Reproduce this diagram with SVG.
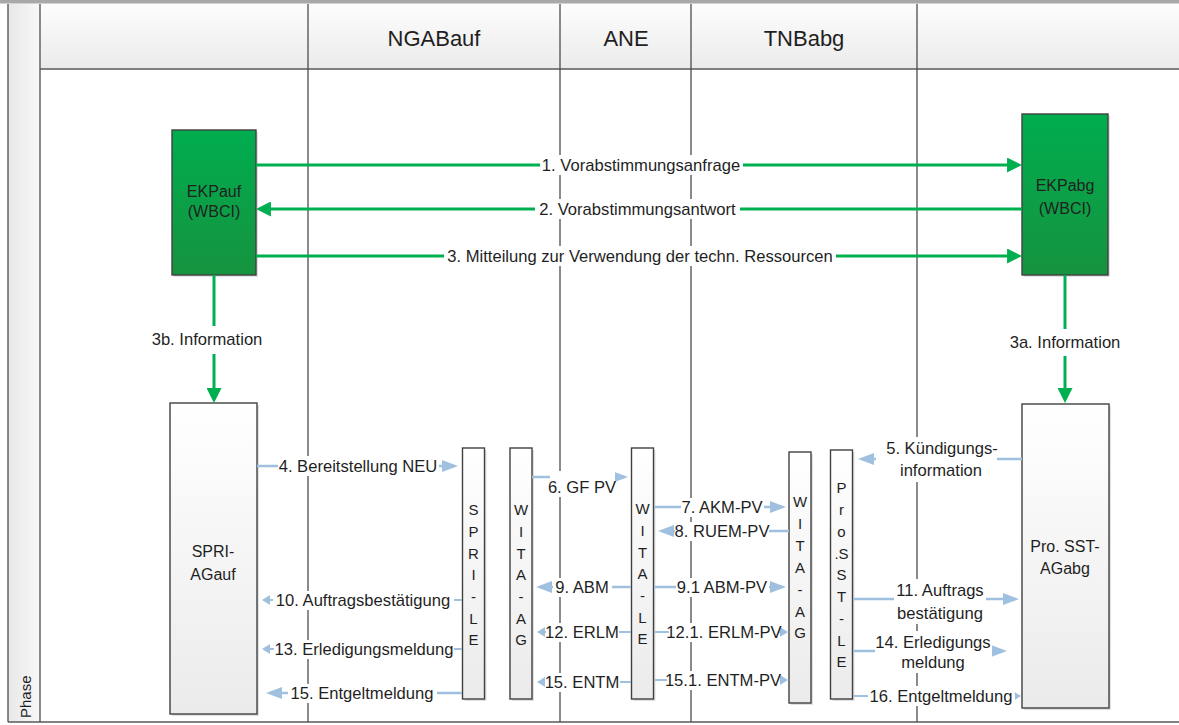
<svg xmlns="http://www.w3.org/2000/svg" width="1179" height="725" viewBox="0 0 1179 725">
  <defs>
    <linearGradient id="gHead" x1="0" y1="0" x2="0" y2="1">
      <stop offset="0" stop-color="#fdfdfd"/>
      <stop offset="1" stop-color="#ebebeb"/>
    </linearGradient>
    <linearGradient id="gPhase" x1="0" y1="0" x2="1" y2="0">
      <stop offset="0" stop-color="#e8e8e8"/>
      <stop offset="1" stop-color="#f8f8f8"/>
    </linearGradient>
    <linearGradient id="gGreen" x1="0" y1="0" x2="0" y2="1">
      <stop offset="0" stop-color="#00ad4f"/>
      <stop offset="1" stop-color="#16933f"/>
    </linearGradient>
    <linearGradient id="gBox" x1="0" y1="0" x2="0" y2="1">
      <stop offset="0" stop-color="#ffffff"/>
      <stop offset="1" stop-color="#ebebeb"/>
    </linearGradient>
    <marker id="mGreen" viewBox="0 0 10 10" refX="7.3" refY="5" markerWidth="15" markerHeight="15" markerUnits="userSpaceOnUse" orient="auto">
      <path d="M0,0 L10,5 L0,10 z" fill="#00b050"/>
    </marker>
    <marker id="mBlue" viewBox="0 0 16 12" refX="12" refY="6" markerWidth="16" markerHeight="12" markerUnits="userSpaceOnUse" orient="auto">
      <path d="M0,0 L16,6 L0,12 z" fill="#9fc0df"/>
    </marker>
    <marker id="mBlueS" viewBox="0 0 8 10" refX="5" refY="5" markerWidth="8" markerHeight="10" markerUnits="userSpaceOnUse" orient="auto">
      <path d="M0,0 L8,5 L0,10 z" fill="#9fc0df"/>
    </marker>
  </defs>
  <style>
    text { font-family: "Liberation Sans", Arial, sans-serif; fill: #1f1f1f; }
    .head { font-size: 22px; text-anchor: middle; }
    .lbl { font-size: 16.6px; text-anchor: middle; }
    .box { font-size: 16px; text-anchor: middle; }
    .bar { font-size: 15px; text-anchor: middle; }
    .frame { stroke: #595959; stroke-width: 1.4; fill: none; }
    .life { stroke: #4d4d4d; stroke-width: 1.3; fill: none; }
    .green { stroke: #00b050; stroke-width: 3; fill: none; marker-end: url(#mGreen); }
    .blue { stroke: #9fc0df; stroke-width: 2.5; fill: none; marker-end: url(#mBlue); }
    .blueS { stroke: #9fc0df; stroke-width: 2; fill: none; marker-end: url(#mBlueS); }
    .bg { fill: #ffffff; }
    .node { stroke: #404040; stroke-width: 1.4; }
    .shadow { fill: #000000; opacity: 0.12; }
  </style>

  <rect width="1179" height="725" fill="#ffffff"/>

  <!-- pool frame, header row and swimlane lines -->
  <g id="frame">
    <rect x="0" y="0" width="1179" height="3.5" fill="#a8a8a8"/>
    <rect x="8" y="4" width="32" height="718" fill="url(#gPhase)"/>
    <rect x="40" y="4" width="1139" height="65" fill="url(#gHead)"/>
    <line class="frame" x1="8" y1="4" x2="8" y2="722"/>
    <line class="frame" x1="40" y1="4" x2="40" y2="722"/>
    <line class="frame" x1="40" y1="69" x2="1179" y2="69"/>
    <line class="frame" x1="8" y1="722" x2="1179" y2="722"/>
    <line class="life" x1="308" y1="4" x2="308" y2="722"/>
    <line class="life" x1="560" y1="4" x2="560" y2="722"/>
    <line class="life" x1="691" y1="4" x2="691" y2="722"/>
    <line class="life" x1="917" y1="4" x2="917" y2="722"/>
    <text class="head" x="434" y="46">NGABauf</text>
    <text class="head" x="626" y="46">ANE</text>
    <text class="head" x="804" y="46">TNBabg</text>
    <text font-size="15" transform="translate(31,718) rotate(-90)">Phase</text>
  </g>

  <!-- green WBCI nodes -->
  <g id="EKPauf">
    <rect class="shadow" x="174" y="132" width="84" height="145"/>
    <rect class="node" x="172" y="130" width="84" height="145" fill="url(#gGreen)"/>
    <text class="box" x="214" y="197">EKPauf</text>
    <text class="box" x="214" y="217">(WBCI)</text>
  </g>
  <g id="EKPabg">
    <rect class="shadow" x="1024" y="116" width="86" height="161"/>
    <rect class="node" x="1022" y="114" width="86" height="161" fill="url(#gGreen)"/>
    <text class="box" x="1065" y="191">EKPabg</text>
    <text class="box" x="1065" y="214">(WBCI)</text>
  </g>

  <!-- process boxes -->
  <g id="SPRI-AGauf">
    <rect class="shadow" x="172" y="405" width="87" height="311"/>
    <rect class="node" x="170" y="403" width="87" height="311" fill="url(#gBox)"/>
    <text class="box" x="213" y="557">SPRI-</text>
    <text class="box" x="213" y="580">AGauf</text>
  </g>
  <g id="ProSST-AGabg">
    <rect class="shadow" x="1024" y="406" width="87" height="304"/>
    <rect class="node" x="1022" y="404" width="87" height="304" fill="url(#gBox)"/>
    <text class="box" x="1065" y="552">Pro. SST-</text>
    <text class="box" x="1065" y="574">AGabg</text>
  </g>

  <!-- narrow interface bars -->
  <g id="SPRI-LE">
    <rect class="shadow" x="464.5" y="450" width="22" height="251"/>
    <rect class="node" x="462.5" y="448" width="22" height="251" fill="url(#gBox)"/>
    <text class="bar">
      <tspan x="473.5" y="515.4">S</tspan><tspan x="473.5" y="537.1">P</tspan><tspan x="473.5" y="558.7">R</tspan><tspan x="473.5" y="580.4">I</tspan><tspan x="473.5" y="602.1">-</tspan><tspan x="473.5" y="623.7">L</tspan><tspan x="473.5" y="645.4">E</tspan>
    </text>
  </g>
  <g id="WITA-AG-auf">
    <rect class="shadow" x="512" y="450" width="22" height="251"/>
    <rect class="node" x="510" y="448" width="22" height="251" fill="url(#gBox)"/>
    <text class="bar">
      <tspan x="521" y="515.4">W</tspan><tspan x="521" y="537.1">I</tspan><tspan x="521" y="558.7">T</tspan><tspan x="521" y="580.4">A</tspan><tspan x="521" y="602.1">-</tspan><tspan x="521" y="623.7">A</tspan><tspan x="521" y="645.4">G</tspan>
    </text>
  </g>
  <g id="WITA-LE">
    <rect class="shadow" x="633.5" y="450" width="22" height="251"/>
    <rect class="node" x="631.5" y="448" width="22" height="251" fill="url(#gBox)"/>
    <text class="bar">
      <tspan x="642.5" y="514.4">W</tspan><tspan x="642.5" y="536.1">I</tspan><tspan x="642.5" y="557.7">T</tspan><tspan x="642.5" y="579.4">A</tspan><tspan x="642.5" y="601.1">-</tspan><tspan x="642.5" y="622.7">L</tspan><tspan x="642.5" y="644.4">E</tspan>
    </text>
  </g>
  <g id="WITA-AG-abg">
    <rect class="shadow" x="791" y="454" width="22" height="251"/>
    <rect class="node" x="789" y="452" width="22" height="251" fill="url(#gBox)"/>
    <text class="bar">
      <tspan x="800" y="507.4">W</tspan><tspan x="800" y="529.2">I</tspan><tspan x="800" y="551.1">T</tspan><tspan x="800" y="572.9">A</tspan><tspan x="800" y="594.7">-</tspan><tspan x="800" y="616.6">A</tspan><tspan x="800" y="638.4">G</tspan>
    </text>
  </g>
  <g id="ProSST-LE">
    <rect class="shadow" x="832.5" y="452" width="22" height="249"/>
    <rect class="node" x="830.5" y="450" width="22" height="249" fill="url(#gBox)"/>
    <text class="bar">
      <tspan x="841.5" y="493.4">P</tspan><tspan x="841.5" y="515.2">r</tspan><tspan x="841.5" y="536.9">o</tspan><tspan x="841.5" y="558.7">.S</tspan><tspan x="841.5" y="580.4">S</tspan><tspan x="841.5" y="602.2">T</tspan><tspan x="841.5" y="623.9">-</tspan><tspan x="841.5" y="645.7">L</tspan><tspan x="841.5" y="667.4">E</tspan>
    </text>
  </g>

  <!-- message flows -->
  <g id="connectors">
    <line class="green" x1="256" y1="165" x2="1018" y2="165"/>
    <line class="green" x1="1022" y1="209" x2="260" y2="209"/>
    <line class="green" x1="256" y1="256" x2="1018" y2="256"/>
    <line class="green" x1="214" y1="275" x2="214" y2="399"/>
    <line class="green" x1="1065" y1="275" x2="1065" y2="399"/>

    <line class="blue" x1="257" y1="466" x2="454" y2="466"/>
    <line class="blue" x1="532" y1="477" x2="624" y2="477"/>
    <line class="blue" x1="654" y1="507" x2="782" y2="507"/>
    <line class="blue" x1="789" y1="531" x2="662" y2="531"/>
    <line class="blue" x1="654" y1="587" x2="782" y2="587"/>
    <line class="blueS" x1="654" y1="632" x2="785" y2="632"/>
    <line class="blueS" x1="654" y1="680" x2="785" y2="680"/>
    <line class="blue" x1="631" y1="587" x2="540" y2="587"/>
    <line class="blueS" x1="631" y1="632" x2="540" y2="632"/>
    <line class="blueS" x1="631" y1="682" x2="540" y2="682"/>
    <line class="blueS" x1="462" y1="600" x2="265" y2="600"/>
    <line class="blueS" x1="462" y1="649" x2="265" y2="649"/>
    <line class="blue" x1="462" y1="693" x2="270" y2="693"/>
    <line class="blue" x1="1022" y1="459" x2="862" y2="459"/>
    <line class="blue" x1="853" y1="599" x2="1015" y2="599"/>
    <line class="blue" x1="853" y1="651" x2="1003" y2="651"/>
    <line class="blueS" x1="853" y1="696" x2="1018" y2="696"/>

    <!-- label backgrounds break the lines behind them -->
    <rect class="bg" x="540" y="155" width="203" height="20"/>
    <rect class="bg" x="535" y="199" width="205" height="20"/>
    <rect class="bg" x="444" y="246" width="392" height="20"/>
    <rect class="bg" x="140" y="326" width="134" height="28"/>
    <rect class="bg" x="1003" y="329" width="123" height="27"/>
    <rect class="bg" x="278" y="456" width="161" height="20"/>
    <rect class="bg" x="550" y="471" width="65" height="26"/>
    <rect class="bg" x="681" y="498" width="83" height="19"/>
    <rect class="bg" x="675" y="522" width="94" height="19"/>
    <rect class="bg" x="676" y="578" width="93" height="19"/>
    <rect class="bg" x="669" y="623" width="110" height="19"/>
    <rect class="bg" x="667" y="671" width="113" height="19"/>
    <rect class="bg" x="553" y="578" width="59" height="19"/>
    <rect class="bg" x="546" y="623" width="73" height="19"/>
    <rect class="bg" x="545" y="673" width="75" height="19"/>
    <rect class="bg" x="273" y="591" width="181" height="19"/>
    <rect class="bg" x="274" y="640" width="180" height="19"/>
    <rect class="bg" x="288" y="684" width="149" height="19"/>
    <rect class="bg" x="876" y="437" width="121" height="45"/>
    <rect class="bg" x="894" y="579" width="92" height="45"/>
    <rect class="bg" x="875" y="631" width="117" height="42"/>
    <rect class="bg" x="868" y="686" width="147" height="20"/>

    <text class="lbl" x="641" y="171">1. Vorabstimmungsanfrage</text>
    <text class="lbl" x="637.5" y="215">2. Vorabstimmungsantwort</text>
    <text class="lbl" x="640" y="262">3. Mitteilung zur Verwendung der techn. Ressourcen</text>
    <text class="lbl" x="207" y="345">3b. Information</text>
    <text class="lbl" x="1065" y="348">3a. Information</text>
    <text class="lbl" x="358" y="472">4. Bereitstellung NEU</text>
    <text class="lbl" x="582" y="493">6. GF PV</text>
    <text class="lbl" x="722" y="513">7. AKM-PV</text>
    <text class="lbl" x="722" y="537">8. RUEM-PV</text>
    <text class="lbl" x="722" y="593">9.1 ABM-PV</text>
    <text class="lbl" x="724" y="638">12.1. ERLM-PV</text>
    <text class="lbl" x="723" y="686">15.1. ENTM-PV</text>
    <text class="lbl" x="582" y="593">9. ABM</text>
    <text class="lbl" x="582" y="638">12. ERLM</text>
    <text class="lbl" x="582" y="688">15. ENTM</text>
    <text class="lbl" x="363" y="606">10. Auftragsbestätigung</text>
    <text class="lbl" x="364" y="655">13. Erledigungsmeldung</text>
    <text class="lbl" x="362" y="699">15. Entgeltmeldung</text>
    <text class="lbl" x="942" y="454">5. Kündigungs-</text>
    <text class="lbl" x="941" y="476">information</text>
    <text class="lbl" x="940" y="596">11. Auftrags</text>
    <text class="lbl" x="940" y="619">bestätigung</text>
    <text class="lbl" x="933" y="648">14. Erledigungs</text>
    <text class="lbl" x="933" y="668">meldung</text>
    <text class="lbl" x="941" y="702">16. Entgeltmeldung</text>
  </g>
</svg>
